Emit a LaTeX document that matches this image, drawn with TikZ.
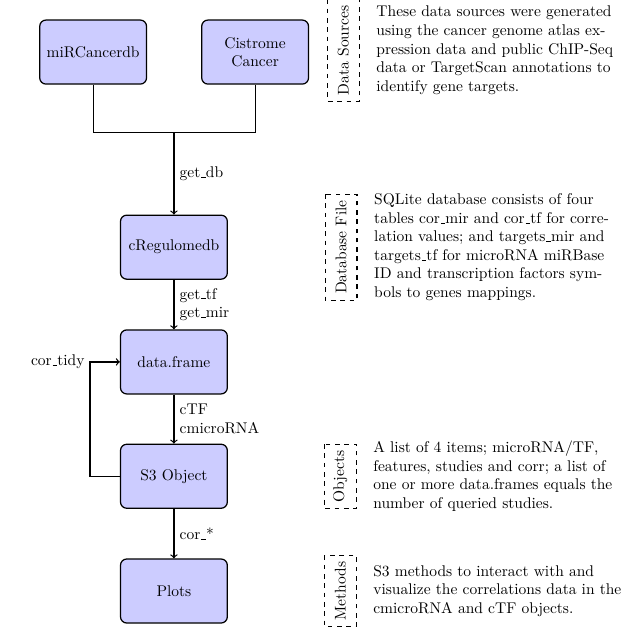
\documentclass[tikz,border=0pt]{standalone}
\usetikzlibrary{positioning}

\newcommand\usc{\leavevmode\kern.06em\vbox{\hrule width.3em}}

\tikzset{
  box/.style={draw, thick, rounded corners=4pt, fill=blue!20, align=center,
    minimum width=2.42cm, minimum height=1.45cm},
  tag/.style={draw, thick, dashed, rotate=90, minimum height=0.72cm, inner xsep=4pt},
  note/.style={text width=5.9cm, align=left},
  link/.style={->, thick}
}

\begin{document}
\begin{tikzpicture}
\useasboundingbox (0,0) rectangle (14.5,-14.5);
%\draw[help lines, color=gray!30, dashed] (0,-14.5) grid (14.5,0);
\node[box] (mir) at (2.11,-1.18) {miRCancerdb};
\node[box] (cis) at (5.78,-1.18) {Cistrome\\Cancer};
\coordinate (j) at (3.94,-3.01);
\node[box] (creg) at (3.94,-5.60) {cRegulomedb};
\node[box] (df) at (3.94,-8.20) {data.frame};
\node[box] (s3) at (3.94,-10.79) {S3 Object};
\node[box] (plots) at (3.94,-13.39) {Plots};

\draw[thick] (mir.south) |- (j) -| (cis.south);
\draw[link] (j) -- node[right] (getdb) {get\usc db} (creg);
\draw[link] (creg) -- node[right, align=left] (gettf) {get\usc tf\\get\usc mir} (df);
\draw[link] (df) -- node[right, align=left] (ctf) {cTF\\cmicroRNA} (s3);
\draw[link] (s3) -- node[right] (corall) {cor\usc *} (plots);
\coordinate (loop) at (2.04,-8.20);
\draw[link] (s3.west) -| (loop) -- (df.west);
\node[left] (tidy) at (loop) {cor\usc tidy};

\node[tag] (tagsrc) at (7.78,-1.14) {Data Sources};
\node[tag] (tagdb) at (7.73,-5.60) {Database File};
\node[tag] (tagobj) at (7.71,-10.79) {Objects};
\node[tag] (tagmet) at (7.71,-13.39) {Methods};

\node[note, right=0.25cm of tagsrc.south] (txtsrc) {These data sources were generated\\
  using the cancer genome atlas ex-\\ pression data and public ChIP-Seq\\
  data or TargetScan annotations to\\ identify gene targets.};
\node[note, right=0.25cm of tagdb.south] (txtdb) {SQLite database consists of four\\
  tables cor\usc mir and cor\usc tf for corre-\\ lation values; and targets\usc mir and\\
  targets\usc tf for microRNA miRBase\\ ID and transcription factors sym-\\
  bols to genes mappings.};
\node[note, right=0.25cm of tagobj.south] (txtobj) {A list of 4 items; microRNA/TF,\\
  features, studies and corr; a list of\\ one or more data.frames equals the\\
  number of queried studies.};
\node[note, right=0.25cm of tagmet.south] (txtmet) {S3 methods to interact with and\\
  visualize the correlations data in the\\ cmicroRNA and cTF objects.};
\end{tikzpicture}
\end{document}
